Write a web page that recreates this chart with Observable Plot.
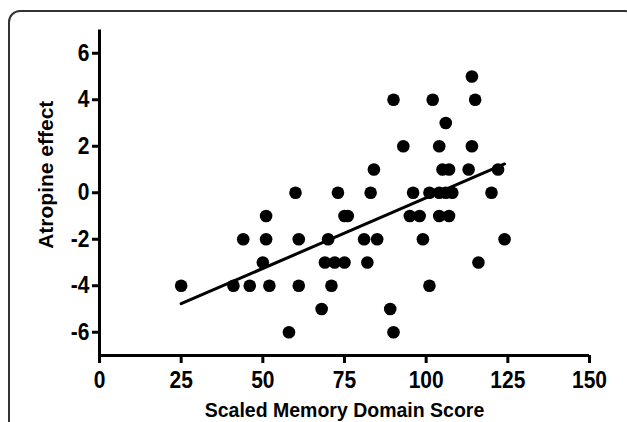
<!DOCTYPE html>
<html><head><meta charset="utf-8">
<script src="https://cdn.jsdelivr.net/npm/d3@7"></script>
<script src="https://cdn.jsdelivr.net/npm/@observablehq/plot@0.6"></script>
<style>
body{margin:0;background:#fff;}
#wrap{position:relative;width:627px;height:422px;overflow:hidden;background:#fff;}
#frame{position:absolute;left:8px;top:10px;width:629px;height:440px;border:2px solid #333;border-radius:12px;box-sizing:border-box;}
#chart{position:absolute;left:0;top:0;}
svg{font-family:"Liberation Sans",Arial,sans-serif;font-weight:bold;}
</style></head><body>
<div id="wrap"><div id="frame"></div><div id="chart"></div></div>
<script>
const memoryScore = [
  114,
  90, 102, 115,
  106,
  93, 104, 114,
  84, 105, 107, 113, 122,
  60, 73, 83, 96, 101, 104, 106, 108, 120,
  51, 75, 76, 95, 98, 104, 107,
  44, 51, 61, 70, 81, 85, 99, 124,
  50, 69, 72, 75, 82, 116,
  25, 41, 46, 52, 61, 71, 101,
  68, 89,
  58, 90
];
const atropineEffect = [
  5,
  4, 4, 4,
  3,
  2, 2, 2,
  1, 1, 1, 1, 1,
  0, 0, 0, 0, 0, 0, 0, 0, 0,
  -1, -1, -1, -1, -1, -1, -1,
  -2, -2, -2, -2, -2, -2, -2, -2,
  -3, -3, -3, -3, -3, -3,
  -4, -4, -4, -4, -4, -4, -4,
  -5, -5,
  -6, -6
];
const xTicks = [0, 25, 50, 75, 100, 125, 150];
const yTicks = [-6, -4, -2, 0, 2, 4, 6];
const xLabel = "Scaled Memory Domain Score";
const yLabel = "Atropine effect";

const data = memoryScore.map((x, i) => ({x, y: atropineEffect[i]}));

const chart = Plot.plot({
  width: 627,
  height: 422,
  marginLeft: 99,
  marginRight: 38,
  marginTop: 29.5,
  marginBottom: 67,
  x: {domain: [0, 150]},
  y: {domain: [-7, 7]},
  marks: [
    Plot.axisX({ticks: xTicks, tickSize: 8, tickPadding: 8, strokeWidth: 3, fontSize: 21, fontWeight: "bold", fill: "#000", label: null, tickFormat: d => String(d)}),
    Plot.axisY({ticks: yTicks, tickSize: 7, tickPadding: 3, strokeWidth: 3, fontSize: 21, fontWeight: "bold", fill: "#000", label: null, tickFormat: d => String(d)}),
    Plot.ruleX([0], {stroke: "#000", strokeWidth: 3}),
    Plot.ruleY([-7], {stroke: "#000", strokeWidth: 3}),
    Plot.dot(data, {x: "x", y: "y", r: 6.3, fill: "#000", stroke: "none"}),
    Plot.linearRegressionY(data, {x: "x", y: "y", stroke: "#000", strokeWidth: 3, ci: 0}),
    Plot.text([xLabel], {frameAnchor: "bottom", textAnchor: "middle", lineAnchor: "middle", dy: 55, fontSize: 19.5, fontWeight: "bold", fill: "#000", ariaLabel: "xlabel"}),
    Plot.text([yLabel], {frameAnchor: "left", textAnchor: "middle", lineAnchor: "middle", rotate: -90, dx: -53, dy: -18, fontSize: 21, fontWeight: "bold", fill: "#000", ariaLabel: "ylabel"})
  ]
});
// slight vertical stretch of horizontal text, as in the reference
chart.querySelectorAll('g[aria-label="x-axis tick label"] text, g[aria-label="y-axis tick label"] text, g[aria-label="xlabel"] text').forEach(t => {
  const tr = t.getAttribute("transform") || "";
  t.setAttribute("transform", tr + " scale(1,1.12)");
});
document.getElementById("chart").appendChild(chart);
</script>
</body></html>
